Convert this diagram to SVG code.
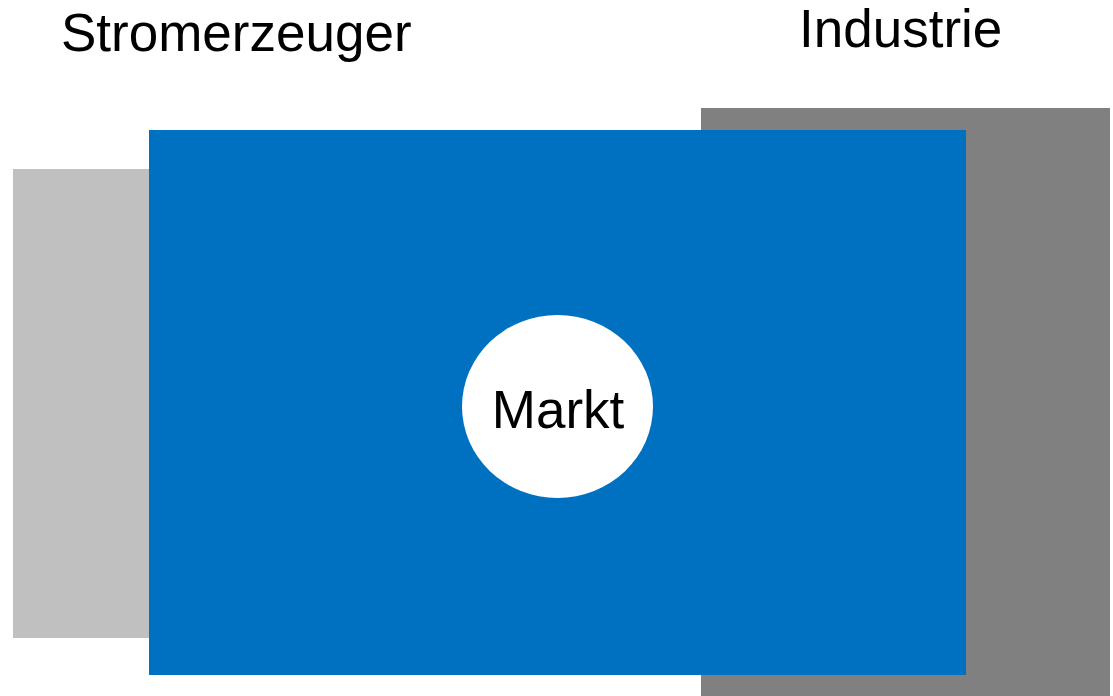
<svg xmlns="http://www.w3.org/2000/svg" width="1113" height="696" viewBox="0 0 1113 696">
<style>
.lbl{font-family:"Liberation Sans",Arial,sans-serif;font-size:53px;fill:#000}
</style>
<rect width="1113" height="696" fill="#fff"/>
<g id="stromerzeuger">
<rect x="13" y="169" width="136" height="469" fill="#c0c0c0"/>
<text class="lbl" x="61" y="51">Stromerzeuger</text>
</g>
<g id="industrie">
<rect x="701" y="108" width="409" height="588" fill="#808080"/>
<text class="lbl" x="799" y="47">Industrie</text>
</g>
<g id="markt-area">
<rect x="149" y="130" width="817" height="545" fill="#0070c0"/>
</g>
<g id="markt">
<ellipse cx="557.5" cy="406.5" rx="95.5" ry="91.5" fill="#fff"/>
<text class="lbl" x="558" y="428" text-anchor="middle">Markt</text>
</g>
<g id="connectors"/>
</svg>
